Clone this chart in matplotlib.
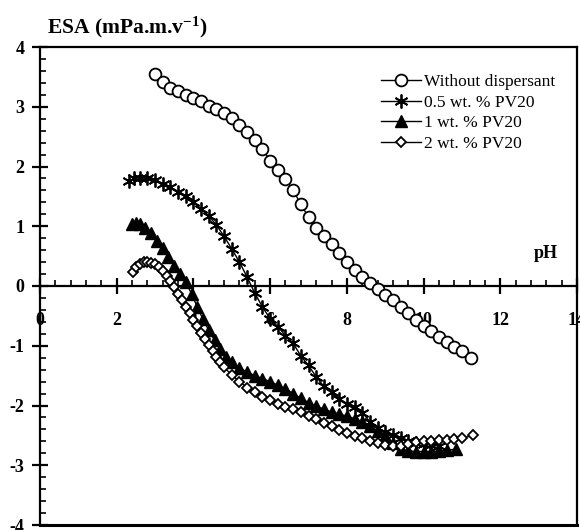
import matplotlib
matplotlib.use("Agg")
import matplotlib.pyplot as plt
from matplotlib.ticker import MultipleLocator

plt.rcParams['font.family'] = 'Liberation Serif'
plt.rcParams['axes.unicode_minus'] = False
plt.rcParams['mathtext.fontset'] = 'custom'
plt.rcParams['mathtext.rm'] = 'Liberation Serif:bold'
plt.rcParams['mathtext.bf'] = 'Liberation Serif:bold'
plt.rcParams['mathtext.default'] = 'bf'

# Without dispersant
ph_0 = [3.0, 3.2, 3.4, 3.6, 3.8, 4.0, 4.2, 4.4, 4.6, 4.8, 5.0, 5.2, 5.4, 5.6, 5.8,
        6.0, 6.2, 6.4, 6.6, 6.8, 7.0, 7.2, 7.4, 7.6, 7.8, 8.0, 8.2, 8.4, 8.6, 8.8,
        9.0, 9.2, 9.4, 9.6, 9.8, 10.0, 10.2, 10.4, 10.6, 10.8, 11.0, 11.23]
esa_0 = [3.54, 3.42, 3.32, 3.26, 3.20, 3.14, 3.09, 3.02, 2.96, 2.89, 2.81, 2.70, 2.58, 2.45, 2.29,
         2.10, 1.94, 1.79, 1.60, 1.37, 1.15, 0.97, 0.84, 0.70, 0.55, 0.40, 0.27, 0.15, 0.05, -0.05,
         -0.15, -0.24, -0.35, -0.46, -0.57, -0.67, -0.76, -0.85, -0.94, -1.02, -1.09, -1.20]

# 0.5 wt. % PV20
ph_05 = [2.32, 2.45, 2.6, 2.8, 3.0, 3.2, 3.4, 3.6, 3.8, 4.0, 4.2, 4.4, 4.6, 4.8, 5.0,
         5.2, 5.4, 5.6, 5.8, 6.0, 6.2, 6.4, 6.6, 6.8, 7.0, 7.2, 7.4, 7.6, 7.8, 8.0,
         8.2, 8.4, 8.6, 8.8, 9.0, 9.2, 9.4, 9.6, 9.8, 10.0, 10.2, 10.4]
esa_05 = [1.76, 1.80, 1.81, 1.80, 1.77, 1.71, 1.65, 1.58, 1.50, 1.40, 1.29, 1.17, 1.02, 0.83, 0.62,
          0.40, 0.15, -0.12, -0.35, -0.55, -0.68, -0.83, -0.96, -1.17, -1.33, -1.52, -1.68, -1.78, -1.89, -1.97,
          -2.03, -2.12, -2.27, -2.37, -2.44, -2.50, -2.55, -2.59, -2.62, -2.64, -2.66, -2.68]

# 1 wt. % PV20
ph_1 = [2.41, 2.5, 2.62, 2.75, 2.9, 3.05, 3.2, 3.35, 3.5, 3.65, 3.8, 3.95, 4.1, 4.25, 4.4,
        4.55, 4.7, 4.85, 5.0, 5.2, 5.4, 5.6, 5.8, 6.0, 6.2, 6.4, 6.6, 6.8, 7.0, 7.2,
        7.4, 7.6, 7.8, 8.0, 8.2, 8.4, 8.6, 8.8, 9.0, 9.2, 9.4, 9.6, 9.8, 10.0, 10.2,
        10.4, 10.6, 10.85]
esa_1 = [1.03, 1.05, 1.03, 0.97, 0.88, 0.76, 0.63, 0.48, 0.33, 0.20, 0.07, -0.13, -0.35, -0.56, -0.74,
         -0.91, -1.06, -1.18, -1.27, -1.37, -1.44, -1.50, -1.55, -1.60, -1.66, -1.72, -1.80, -1.88, -1.95, -2.01,
         -2.06, -2.11, -2.14, -2.18, -2.22, -2.27, -2.34, -2.42, -2.51, -2.62, -2.72, -2.76, -2.77, -2.77, -2.77,
         -2.76, -2.75, -2.73]

# 2 wt. % PV20
ph_2 = [2.42, 2.5, 2.6, 2.7, 2.8, 2.9, 3.0, 3.1, 3.2, 3.3, 3.4, 3.5, 3.6, 3.7, 3.8,
        3.9, 4.0, 4.1, 4.2, 4.3, 4.4, 4.5, 4.6, 4.7, 4.8, 5.0, 5.2, 5.4, 5.6, 5.8,
        6.0, 6.2, 6.4, 6.6, 6.8, 7.0, 7.2, 7.4, 7.6, 7.8, 8.0, 8.2, 8.4, 8.6, 8.8,
        9.0, 9.2, 9.4, 9.6, 9.8, 10.0, 10.2, 10.4, 10.6, 10.8, 11.0, 11.28]
esa_2 = [0.24, 0.32, 0.37, 0.40, 0.41, 0.39, 0.36, 0.31, 0.25, 0.16, 0.08, -0.02, -0.13, -0.24, -0.35,
         -0.46, -0.57, -0.67, -0.78, -0.88, -0.99, -1.09, -1.19, -1.28, -1.36, -1.49, -1.60, -1.70, -1.78, -1.85,
         -1.91, -1.97, -2.02, -2.06, -2.11, -2.17, -2.23, -2.29, -2.35, -2.41, -2.46, -2.51, -2.55, -2.59, -2.63,
         -2.66, -2.68, -2.68, -2.64, -2.61, -2.60, -2.59, -2.58, -2.57, -2.56, -2.55, -2.50]

labels = ['Without dispersant', '0.5 wt. % PV20', '1 wt. % PV20', '2 wt. % PV20']

fig = plt.figure(figsize=(5.8, 5.3), dpi=100)
ax = fig.add_axes([40 / 580, 5 / 530, 537 / 580, 478 / 530])

ax.plot(ph_0, esa_0, color='k', lw=1, marker='o', ms=8.5, mfc='white', mec='k', mew=1.3,
        label=labels[0], zorder=3)
ax.plot(ph_05, esa_05, color='k', lw=1, marker=(6, 2, 0), ms=10, mec='k', mew=1.3,
        label=labels[1], zorder=3)
ax.plot(ph_1, esa_1, color='k', lw=1, marker='^', ms=9, mfc='k', mec='k',
        label=labels[2], zorder=3)
ax.plot(ph_2, esa_2, color='k', lw=1, marker='D', ms=5.5, mfc='white', mec='k', mew=1.3,
        label=labels[3], zorder=3)

ax.set_xlim(0, 14)
ax.set_ylim(-4, 4)
ax.set_axisbelow(True)

ax.spines['bottom'].set_position(('data', 0))
for s in ax.spines.values():
    s.set_linewidth(1.6)
# bottom frame line of the box
ax.plot([0, 1], [0, 0], transform=ax.transAxes, color='k', lw=2.2, clip_on=False)

ax.xaxis.set_major_locator(MultipleLocator(2))
ax.xaxis.set_minor_locator(MultipleLocator(0.4))
ax.yaxis.set_major_locator(MultipleLocator(1))
ax.yaxis.set_minor_locator(MultipleLocator(0.2))

ax.tick_params(axis='x', which='major', direction='inout', length=11, width=1.6, pad=13,
               labelsize=13)
ax.tick_params(axis='x', which='minor', direction='in', length=4, width=1.2)
ax.tick_params(axis='y', which='major', direction='inout', length=12, width=1.6, pad=5,
               labelsize=13)
ax.tick_params(axis='y', which='minor', direction='in', length=4.5, width=1.2)
for lab in ax.get_xticklabels() + ax.get_yticklabels():
    lab.set_fontweight('bold')

ax.text(13.2, 0.55, 'pH', ha='center', va='center', fontsize=13, fontweight='bold')
fig.text(47 / 580, 1 - 33 / 530, 'ESA (mPa.m.v$^{-1}$)', ha='left', va='baseline',
         fontsize=15.5, fontweight='bold')

ax.legend(loc='upper left', bbox_to_anchor=(381 / 580, 1 - 74 / 530),
          bbox_transform=fig.transFigure, frameon=False, borderpad=0, borderaxespad=0,
          handlelength=2.3, handletextpad=0.15, labelspacing=0.25, numpoints=1,
          prop={'family': 'Liberation Serif', 'size': 12.5})

fig.savefig('out.png', dpi=100)
